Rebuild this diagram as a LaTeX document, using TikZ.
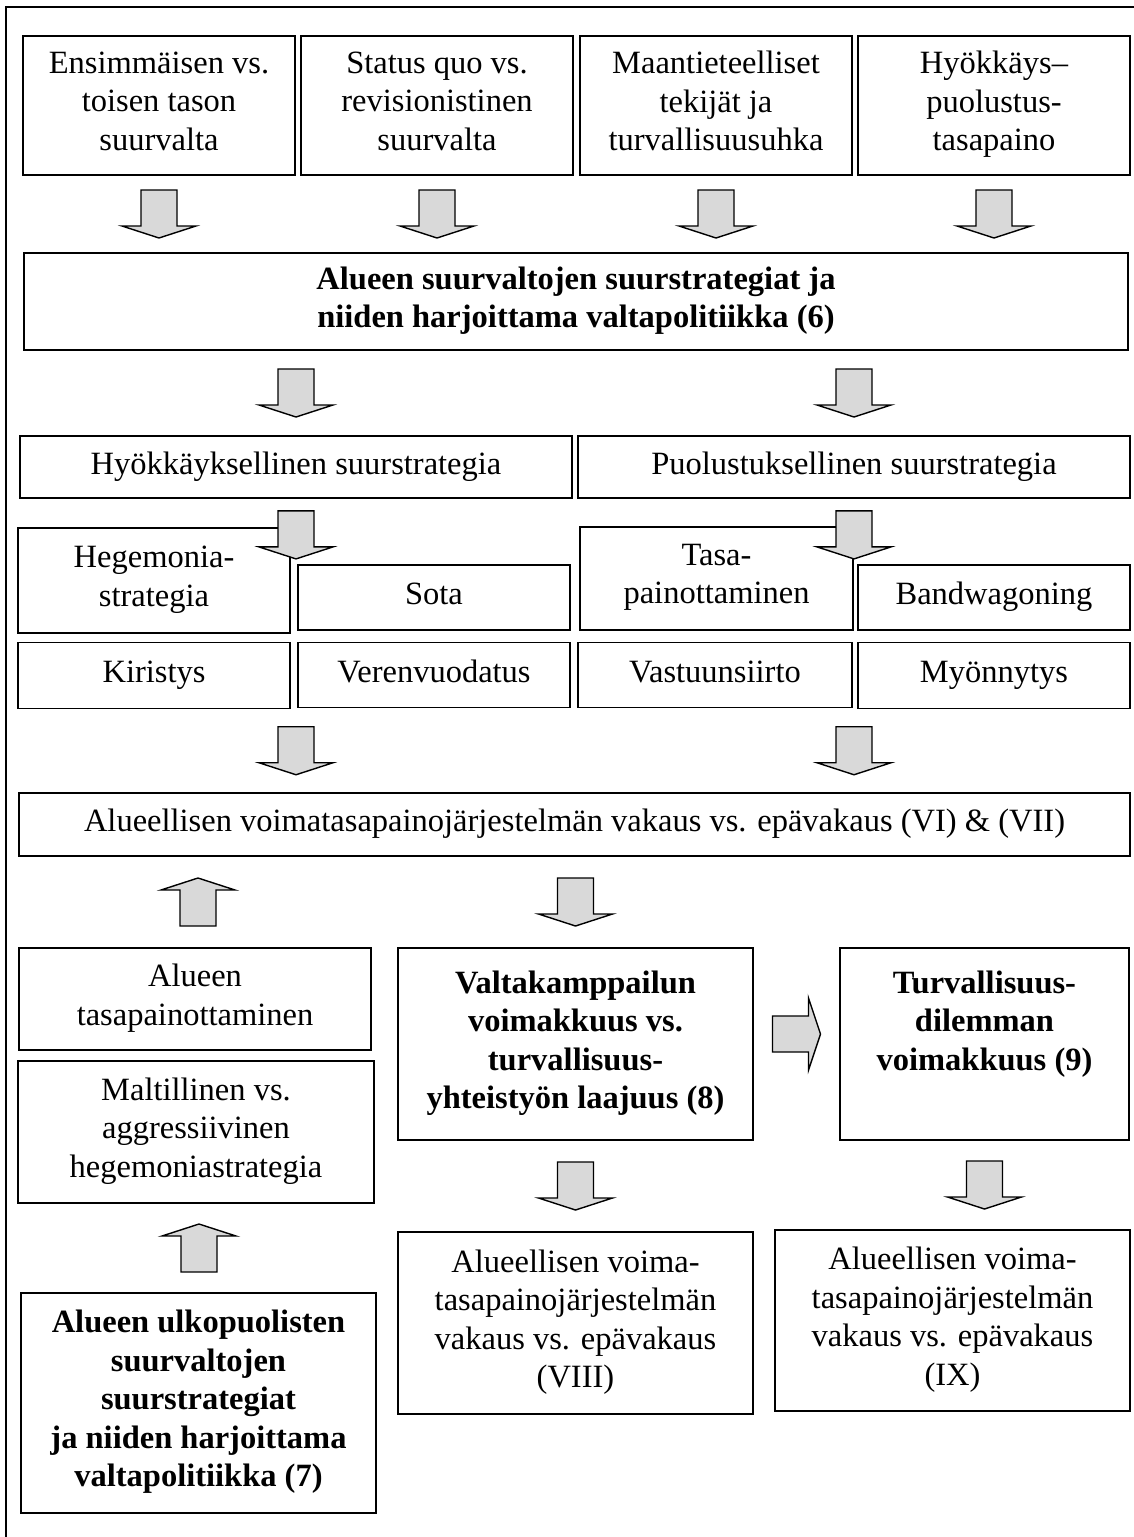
\documentclass[tikz,border=0pt]{standalone}
\usepackage{fontspec}
\setmainfont{Liberation Serif}
\usetikzlibrary{calc}
\definecolor{arrowgray}{RGB}{217,217,217}
% line strut for box texts
\newcommand\boxstrut{\rule[-9pt]{0pt}{32pt}}
\begin{document}
\begin{tikzpicture}[x=1pt,y=-1pt,
  box/.style={draw=black, line width=1.8pt, fill=white, inner sep=0pt,
    align=center, font=\fontsize{32.5}{38.5}\selectfont,
    execute at begin node=\boxstrut, execute at end node=\boxstrut},
  boldbox/.style={box, font=\fontsize{32.5}{38.5}\selectfont\bfseries},
  arrowbody/.style={draw=black, line width=1.4pt, fill=arrowgray, line join=miter},
  fatdown/.pic={\path[arrowbody] (-18,-24) -- (18,-24) -- (18,12) -- (37,12)
      -- (0,24) -- (-37,12) -- (-18,12) -- cycle;},
  fatup/.pic={\path[arrowbody] (-18,24) -- (18,24) -- (18,-12) -- (37,-12)
      -- (0,-24) -- (-37,-12) -- (-18,-12) -- cycle;},
  fatright/.pic={\path[arrowbody] (-24,-18) -- (12,-18) -- (12,-36) -- (24,0)
      -- (12,36) -- (12,18) -- (-24,18) -- cycle;}
]
\useasboundingbox (0,0) rectangle (1134,1537);

% outer frame (open at right and bottom)
\draw[line width=2pt] (6,1537) -- (6,7) -- (1134,7);

% factors
\node[box, minimum width=272, minimum height=139] (b1) at (159,105.5)
  {Ensimmäisen vs.\\toisen tason\\suurvalta};
\node[box, minimum width=272, minimum height=139] (b2) at (437,105.5)
  {Status quo vs.\\revisionistinen\\suurvalta};
\node[box, minimum width=272, minimum height=139] (b3) at (716,105.5)
  {Maantieteelliset\\tekijät ja\\turvallisuusuhka};
\node[box, minimum width=272, minimum height=139] (b4) at (994,105.5)
  {Hyökkäys–\\puolustus-\\tasapaino};

% grand strategies of the regional powers
\node[boldbox, minimum width=1104, minimum height=97] (strat) at (576,301.5)
  {Alueen suurvaltojen suurstrategiat ja\\niiden harjoittama valtapolitiikka (6)};

\node[box, minimum width=552, minimum height=62] (off) at (296,467)
  {Hyökkäyksellinen suurstrategia};
\node[box, minimum width=552, minimum height=62] (def) at (854,467)
  {Puolustuksellinen suurstrategia};

\node[box, minimum width=272, minimum height=105] (heg) at (154,580.5)
  {Hegemonia-\\strategia};
\node[box, minimum width=272, minimum height=65] (sota) at (434,597.5) {Sota};
\node[box, minimum width=273, minimum height=103] (tasa) at (716.5,578.5)
  {Tasa-\\painottaminen};
\node[box, minimum width=272, minimum height=65] (band) at (994,597.5) {Bandwagoning};

\node[box, minimum width=272, minimum height=66] (kir) at (154,675.5) {Kiristys};
\node[box, minimum width=272, minimum height=65] (ver) at (434,675) {Verenvuodatus};
\node[box, minimum width=274, minimum height=65] (vast) at (715,675) {Vastuunsiirto};
\node[box, minimum width=272, minimum height=66] (myon) at (994,675.5) {Myönnytys};

\node[box, minimum width=1111, minimum height=63] (stab) at (574.5,824.5)
  {Alueellisen voimatasapainojärjestelmän vakaus vs. epävakaus (VI) \& (VII)};

% lower part
\node[box, minimum width=352, minimum height=102] (albal) at (195,999)
  {Alueen\\tasapainottaminen};
\node[box, minimum width=356, minimum height=142] (malt) at (196,1132)
  {Maltillinen vs.\\aggressiivinen\\hegemoniastrategia};
\node[boldbox, minimum width=355, minimum height=220] (ext) at (198.5,1403)
  {Alueen ulkopuolisten\\suurvaltojen\\suurstrategiat\\ja niiden harjoittama\\valtapolitiikka (7)};

\node[boldbox, minimum width=355, minimum height=192] (rival) at (575.5,1044)
  {Valtakamppailun\\voimakkuus vs.\\turvallisuus-\\yhteistyön laajuus (8)};
\node[boldbox, minimum width=289, minimum height=192] (dil) at (984.5,1044)
  {Turvallisuus-\\dilemman\\voimakkuus (9)\\\mbox{}};

\node[box, minimum width=355, minimum height=182] (st8) at (575.5,1323)
  {Alueellisen voima-\\tasapainojärjestelmän\\vakaus vs. epävakaus\\(VIII)};
\node[box, minimum width=355, minimum height=181] (st9) at (952.5,1320.5)
  {Alueellisen voima-\\tasapainojärjestelmän\\vakaus vs. epävakaus\\(IX)};

% block arrows
\foreach \n in {b1,b2,b3,b4}
  \pic at ($(\n.south)!0.5!(\n.south |- strat.north)$) {fatdown};
\foreach \n in {off,def}
  \pic at ($(\n.north |- strat.south)!0.5!(\n.north)$) {fatdown};
\foreach \n in {off,def}
  \pic at ($(\n.south)+(0,36)$) {fatdown};
\foreach \n in {off,def}
  \pic at ($(\n.south |- kir.south)!0.5!(\n.south |- stab.north)$) {fatdown};
\pic at ($(rival.north |- stab.south)!0.5!(rival.north)$) {fatdown};
\pic at ($(albal.north |- stab.south)!0.5!(albal.north)+(3,0)$) {fatup};
\pic at ($(malt.south)!0.5!(malt.south |- ext.north)+(3,0)$) {fatup};
\pic at ($(rival.east)!0.5!(dil.west)+(0,-10)$) {fatright};
\pic at ($(rival.south)!0.5!(rival.south |- st8.north)$) {fatdown};
\pic at ($(dil.south)!0.5!(dil.south |- st9.north)$) {fatdown};
\end{tikzpicture}
\end{document}
